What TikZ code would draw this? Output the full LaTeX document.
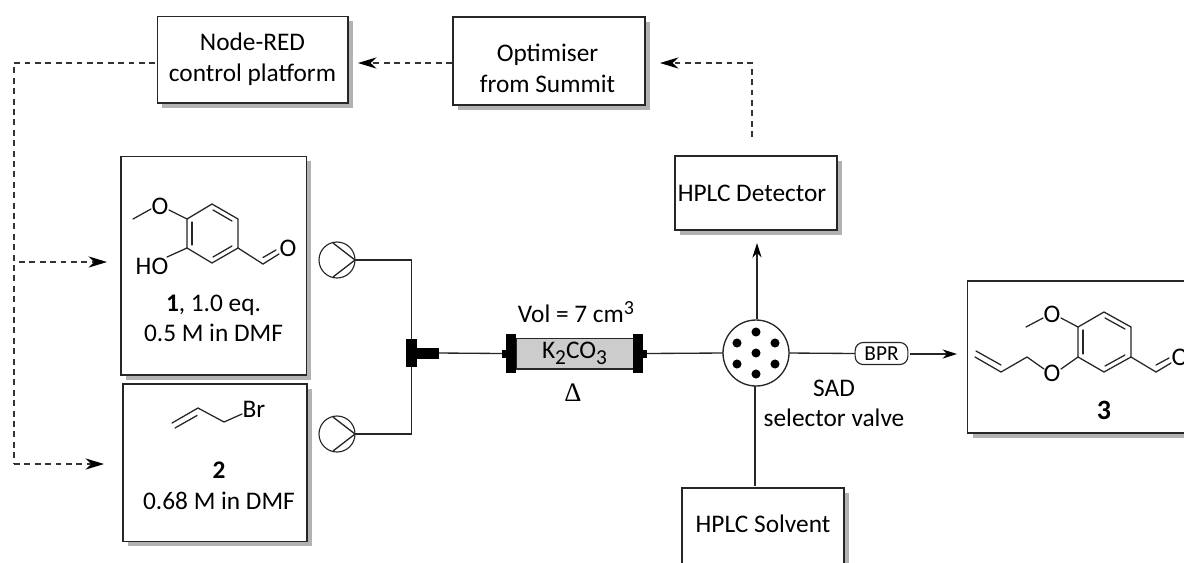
\documentclass[tikz,border=0pt]{standalone}
\usepackage{fontspec}
\setmainfont{Carlito}
\newfontfamily\deltafont{Liberation Serif}
\usetikzlibrary{arrows.meta,shadows,calc}
\newcommand{\subn}[1]{\raisebox{-4pt}{\fontsize{16}{16}\selectfont #1}}
\newcommand{\supn}[1]{\raisebox{6pt}{\fontsize{15}{15}\selectfont #1}}
\tikzset{
  x=0.75pt,y=-0.75pt,
  box/.style={draw=black!85,line width=1pt,fill=white,inner sep=0pt,outer sep=0pt,align=center,font=\fontsize{19}{23}\selectfont,
    drop shadow={shadow xshift=3.75pt,shadow yshift=-3.75pt,fill=black!30,opacity=1}},
  flow/.style={draw=black!85,line width=1pt},
  dashline/.style={draw=black!80,line width=1.05pt,dash pattern=on 4.4pt off 3.4pt},
  tip/.style={-{Stealth[length=11pt,width=7pt,inset=3.5pt,fill=black,line width=0pt]}},
  bigtip/.style={-{Stealth[length=14pt,width=8.5pt,inset=4.5pt,fill=black,line width=0pt]}},
  bond/.style={draw=black!85,line width=0.95pt,line cap=round},
  atom/.style={inner sep=0pt,font=\fontsize{19}{20}\selectfont},
  lab/.style={inner sep=0pt,align=center,font=\fontsize{19}{23}\selectfont},
  solid black/.style={fill=black,draw=none,inner sep=0pt,outer sep=0pt},
  dot/.style={circle,fill=black,draw=none,minimum size=6.8pt,inner sep=0pt},
}
\begin{document}
\begin{tikzpicture}
\clip (0,0) rectangle (1184,562);
% boxes
\node[box,minimum width=143pt,minimum height=65pt] (red) at (252.5,59.5) {Node-RED\\control platform};
\node[box,minimum width=144pt,minimum height=66pt] (opt) at (549,61) {};
\node[lab] (opttext) at (547.5,68) {Optimiser\\from Summit};
\node[box,minimum width=139pt,minimum height=164pt] (b1) at (213.5,265.5) {};
\node[box,minimum width=138pt,minimum height=118pt] (b2) at (215,462.5) {};
\node[box,minimum width=121.5pt,minimum height=55.5pt] (det) at (756,193) {HPLC Detector\hspace{6pt}};
\node[box,minimum width=121.5pt,minimum height=58.5pt] (sol) at (763,527) {\raisebox{5.25pt}{HPLC Solvent}};
\node[box,minimum width=200pt,minimum height=114pt] (b3) at (1101,357) {};
% pumps
\node[circle,draw=black!85,line width=0.85pt,minimum size=27pt,inner sep=0pt,outer sep=0pt] (p1) at (337,260) {};
\node[circle,draw=black!85,line width=0.85pt,minimum size=27pt,inner sep=0pt,outer sep=0pt] (p2) at (337,434) {};
\coordinate (p1a) at (333,243); \coordinate (p1b) at (333,277);
\coordinate (p2a) at (333,417); \coordinate (p2b) at (333,451);
\draw[flow] (p1a) -- (p1.east) -- (p1b);
\draw[flow] (p2a) -- (p2.east) -- (p2b);
% mixer
\node[solid black,minimum width=8.25pt,minimum height=21pt] (tee) at (411.5,353) {};
\node[solid black,minimum width=16.5pt,minimum height=8.25pt,anchor=west] (stem) at (tee.east) {};
\draw[flow] (p1.east) -| (tee.north);
\draw[flow] (p2.east) -| (tee.south);
% reactor
\node[draw=black!85,line width=1pt,fill=black!20,minimum width=88pt,minimum height=23pt,inner sep=0pt,outer sep=0pt,font=\fontsize{19}{20}\selectfont] (rx) at (574.5,353.5) {K\subn{2}CO\subn{3}};
\node[solid black,minimum width=7.5pt,minimum height=29pt] (capl) at (511,353.5) {};
\node[solid black,minimum width=7.5pt,minimum height=29pt] (capr) at (637.5,353.5) {};
\node[solid black,minimum width=3pt,minimum height=6pt,anchor=east] (nubl) at (capl.west) {};
\node[solid black,minimum width=3pt,minimum height=6pt,anchor=west] (nubr) at (capr.east) {};
\draw[flow] (stem.east) -- (nubl.west);
\node[lab] (vol) at (576,312) {Vol = 7 cm\supn{3}};
\node[lab,font=\deltafont\fontsize{20}{23}\selectfont] (delta) at (573,393) {Δ};
% valve
\node[circle,draw=black!85,line width=1pt,minimum size=49.5pt,inner sep=0pt,outer sep=0pt] (valve) at (756,353) {};
\draw[flow] (nubr.east) -- (valve.west);
\foreach \n/\dx/\dy in {c/0/0,t/0/-21,b/0/21,tl/-19/-10,tr/19/-10,bl/-19/11,br/19/11}
  \node[dot] (d\n) at ($(valve.center)+(\dx,\dy)$) {};
\node[draw=black!85,line width=0.85pt,rounded corners=6pt,minimum width=39.5pt,minimum height=16.5pt,inner sep=0pt,outer sep=0pt,font=\fontsize{16}{18}\selectfont] (bpr) at (881.5,353.5) {BPR};
\draw[flow] (valve.east) -- (bpr.west);
\coordinate (bprout) at (910,354);
\coordinate (prodin) at (957,354);
\draw[flow,tip] (bprout) -- (prodin);
\coordinate (detin) at (757,243);
\coordinate (valvetop) at (757,319);
\draw[flow,tip] (valvetop) -- (detin);
\coordinate (solout) at (755,486);
\draw[flow] (solout) -- (solout |- valve.south);
\node[lab] (sad) at (834,403.5) {SAD\\selector valve};
% dashed
\coordinate (rail1) at (14,63);
\coordinate (rail2) at (19,262);
\coordinate (rail3) at (14,464);
\coordinate (in1) at (107,262);
\coordinate (in2) at (104,464);
\coordinate (optin) at (752,63);
\coordinate (optintip) at (660,63);
\coordinate (detout) at (752,137);
\coordinate (redtip) at (358,63);
\draw[dashline] (red.west |- rail1) ++(-2,0) -- (rail1) -- (rail3);
\draw[dashline,bigtip] (rail2) -- (in1);
\draw[dashline,bigtip] (rail3) -- (in2);
\draw[dashline,bigtip] (opt.west |- redtip) ++(-1,0) -- (redtip);
\draw[dashline,bigtip] (detout) -- (optin) -- (optintip);
% molecule 1
\coordinate (a1) at (187,219); \coordinate (a2) at (212,204); \coordinate (a3) at (238,219);
\coordinate (a4) at (238,248); \coordinate (a5) at (212,263); \coordinate (a6) at (187,248);
\draw[bond] (a1)--(a2)--(a3)--(a4)--(a5)--(a6)--cycle;
\draw[bond] (192,222)--(192,245);
\draw[bond] (213,210)--(232,221);
\draw[bond] (232,246)--(213,257);
\node[atom] (o1) at (160,206) {O};
\node[atom] (ho) at (152,266) {HO};
\node[atom] (o1b) at (288,248) {O};
\draw[bond] (133,219)--(151,209);
\draw[bond] (169,210)--(a1);
\draw[bond] (167,257)--(a6);
\draw[bond] (a4)--(263,264)--(279,254);
\draw[bond] (263,257.5)--(276,250);
\node[lab] (t1) at (213.5,318.5) {\textbf{1}, 1.0 eq.\\0.5 M in DMF};
% molecule 2
\draw[bond] (172,423)--(198,408)--(224,422)--(242,414);
\draw[bond] (175,428)--(197,415.5);
\node[atom] (br) at (254,409) {Br};
\node[lab] (t2) at (219,486) {\textbf{2}\\0.68 M in DMF};
% molecule 3
\coordinate (c1) at (1078,327); \coordinate (c2) at (1104,312); \coordinate (c3) at (1131,327);
\coordinate (c4) at (1131,357); \coordinate (c5) at (1104,372); \coordinate (c6) at (1078,357);
\draw[bond] (c1)--(c2)--(c3)--(c4)--(c5)--(c6)--cycle;
\draw[bond] (1083,330)--(1083,354);
\draw[bond] (1105,318)--(1125,329);
\draw[bond] (1125,355)--(1105,366);
\node[atom] (o3a) at (1052,314) {O};
\node[atom] (o3b) at (1052,373) {O};
\node[atom] (o3c) at (1180,357) {O};
\draw[bond] (1026,327)--(1043,318);
\draw[bond] (1061,318)--(c1);
\draw[bond] (1061,369)--(c6);
\draw[bond] (1044,369)--(1027,357)--(1001,372)--(975,357);
\draw[bond] (1001,365)--(976,351);
\draw[bond] (c4)--(1156,372)--(1171,363);
\draw[bond] (1156,365)--(1169,358);
\node[lab,font=\fontsize{21}{22}\bfseries\selectfont] (t3) at (1104,410) {3};
\end{tikzpicture}
\end{document}
